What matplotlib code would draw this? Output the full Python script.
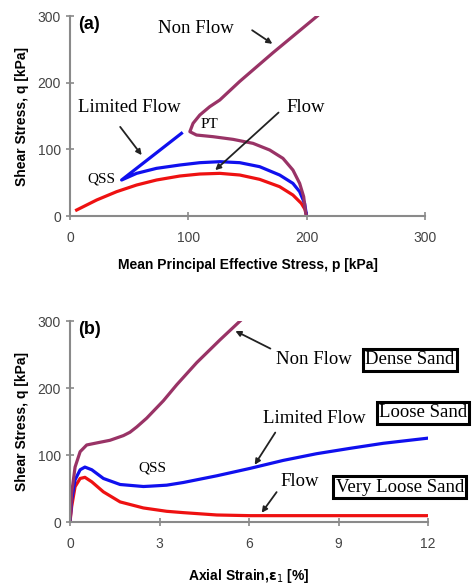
import matplotlib
matplotlib.use('Agg')

import matplotlib.pyplot as plt

# --- data: (a) stress path, q vs p ---
p_nonflow = [200, 199.2, 197.5, 194.1, 188.4, 180.0, 168.8, 154.7, 137.8, 120.9, 106.9,
             101.3, 104.0, 109.7, 118.1, 126.6, 143.5, 171.6, 209]
q_nonflow = [0, 4.5, 29, 49, 69, 86.5, 99, 109, 115, 119, 121.5,
             126.5, 139, 151.5, 164, 174, 202, 245, 300]

p_limited = [200, 198.3, 194.1, 188.4, 177.2, 160.3, 143.5, 126.6, 109.7, 92.8, 73.1, 56.3, 43.6, 94.2]
q_limited = [0, 19, 36.5, 49, 61.5, 74, 80, 81.5, 80, 76.5, 71.5, 64, 54, 124]

p_flow = [200, 198.6, 195.5, 188.4, 177.2, 160.3, 143.5, 126.6, 109.7, 92.8, 73.1, 56.3, 39.4, 22.5, 5.6]
q_flow = [0, 10, 19, 31.5, 44, 55, 61.5, 64, 63, 60, 54, 46.5, 36.5, 24, 9]

# --- data: (b) q vs axial strain ---
e_nonflow = [0, 0.056, 0.17, 0.34, 0.56, 0.89, 1.34, 1.79, 2.01, 2.24, 2.57, 3.13, 3.58, 4.25, 5.03, 5.70]
q2_nonflow = [0, 43, 82, 105, 115, 118, 122, 129, 134, 142, 155, 181, 205, 238, 272, 300]

e_limited = [0, 0.056, 0.17, 0.34, 0.5, 0.73, 1.12, 1.68, 2.46, 2.68, 3.24, 3.8,
             4.92, 6.03, 7.15, 8.27, 9.39, 10.5, 11.96]
q2_limited = [0, 33, 63, 78, 82, 78, 65, 56, 53, 53.5, 55, 59,
              69, 80, 92, 102, 110, 117.5, 125]

e_flow = [0, 0.056, 0.17, 0.34, 0.5, 0.73, 1.12, 1.68, 2.46, 3.24, 3.8, 4.92, 6.03, 11.96]
q2_flow = [0, 23, 52.7, 65, 66.7, 60, 45, 30, 21, 16, 14, 10.5, 9.5, 9.5]

C_NON = '#993366'
C_LIM = '#1010ee'
C_FLOW = '#ee1111'
AXC = '#8a8a8a'

plt.rcParams['font.family'] = ['Liberation Sans', 'DejaVu Sans']
SERIF = 'Liberation Serif'

fig = plt.figure(figsize=(4.72, 5.87), dpi=100)
ax1 = fig.add_axes([0.1483, 0.632, 0.752, 0.3407])
ax2 = fig.add_axes([0.1483, 0.1107, 0.7585, 0.3424])


def style_axes(ax):
    for s in ['top', 'right']:
        ax.spines[s].set_visible(False)
    for s in ['left', 'bottom']:
        ax.spines[s].set_color(AXC)
        ax.spines[s].set_linewidth(1.5)
    ax.tick_params(axis='both', colors=AXC, labelcolor='#444444', labelsize=10,
                   width=1.2, length=6, direction='inout')
    ax.tick_params(axis='x', pad=8)


def arrow(ax, start, end):
    ax.annotate('', xy=end, xytext=start,
                arrowprops=dict(arrowstyle='-|>', color='#222222', lw=1.3, mutation_scale=8))


lw = 2.3
# panel (a)
ax1.plot(p_flow, q_flow, color=C_FLOW, lw=lw, solid_joinstyle='round')
ax1.plot(p_limited, q_limited, color=C_LIM, lw=lw, solid_joinstyle='round')
ax1.plot(p_nonflow, q_nonflow, color=C_NON, lw=lw, solid_joinstyle='round')
ax1.set_xlim(0, 300)
ax1.set_ylim(0, 300)
ax1.set_xticks([0, 100, 200, 300])
ax1.set_yticks([0, 100, 200, 300])
style_axes(ax1)
ax1.set_xlabel('Mean Principal Effective Stress, p [kPa]', fontsize=10, fontweight='bold', labelpad=9)
ax1.set_ylabel('Shear Stress, q [kPa]', fontsize=10, fontweight='bold', labelpad=6)

ax1.text(7, 288, '(a)', fontsize=13, fontweight='bold', va='center')
ax1.text(74, 282, 'Non Flow', family=SERIF, fontsize=13.5, va='center')
arrow(ax1, (152, 281), (173, 256))
ax1.text(7, 163, 'Limited Flow', family=SERIF, fontsize=13.5, va='center')
arrow(ax1, (41, 137), (62, 88))
ax1.text(183, 163, 'Flow', family=SERIF, fontsize=13.5, va='center')
arrow(ax1, (178, 158), (121, 66))
ax1.text(110, 137, 'PT', family=SERIF, fontsize=11, va='center')
ax1.text(15, 55, 'QSS', family=SERIF, fontsize=11, va='center')

# panel (b)
ax2.plot(e_flow, q2_flow, color=C_FLOW, lw=lw, solid_joinstyle='round')
ax2.plot(e_limited, q2_limited, color=C_LIM, lw=lw, solid_joinstyle='round')
ax2.plot(e_nonflow, q2_nonflow, color=C_NON, lw=lw, solid_joinstyle='round')
ax2.set_xlim(0, 12)
ax2.set_ylim(0, 300)
ax2.set_xticks([0, 3, 6, 9, 12])
ax2.set_yticks([0, 100, 200, 300])
style_axes(ax2)
ax2.set_xlabel(r'Axial Strain,$\mathbf{\varepsilon}_1$ [%]', fontsize=10, fontweight='bold', labelpad=11)
ax2.set_ylabel('Shear Stress, q [kPa]', fontsize=10, fontweight='bold', labelpad=6)

ax2.text(0.27, 288, '(b)', fontsize=13, fontweight='bold', va='center')
ax2.text(6.9, 242, 'Non Flow', family=SERIF, fontsize=13.5, va='center')
arrow(ax2, (6.8, 257), (5.46, 287))
ax2.text(6.47, 155, 'Limited Flow', family=SERIF, fontsize=13.5, va='center')
arrow(ax2, (6.93, 137), (6.14, 82))
ax2.text(7.04, 60, 'Flow', family=SERIF, fontsize=13.5, va='center')
arrow(ax2, (6.98, 48), (6.37, 10.5))
ax2.text(2.3, 80, 'QSS', family=SERIF, fontsize=11, va='center')

box = dict(boxstyle='square,pad=0.12', fc='white', ec='black', lw=2.2)
ax2.text(9.9, 242, 'Dense Sand', family=SERIF, fontsize=13.5, va='center', bbox=box, clip_on=False)
ax2.text(10.35, 163, 'Loose Sand', family=SERIF, fontsize=13.5, va='center', bbox=box, clip_on=False)
ax2.text(8.9, 52, 'Very Loose Sand', family=SERIF, fontsize=13.5, va='center', bbox=box, clip_on=False)

fig.savefig('out.png', dpi=100)
